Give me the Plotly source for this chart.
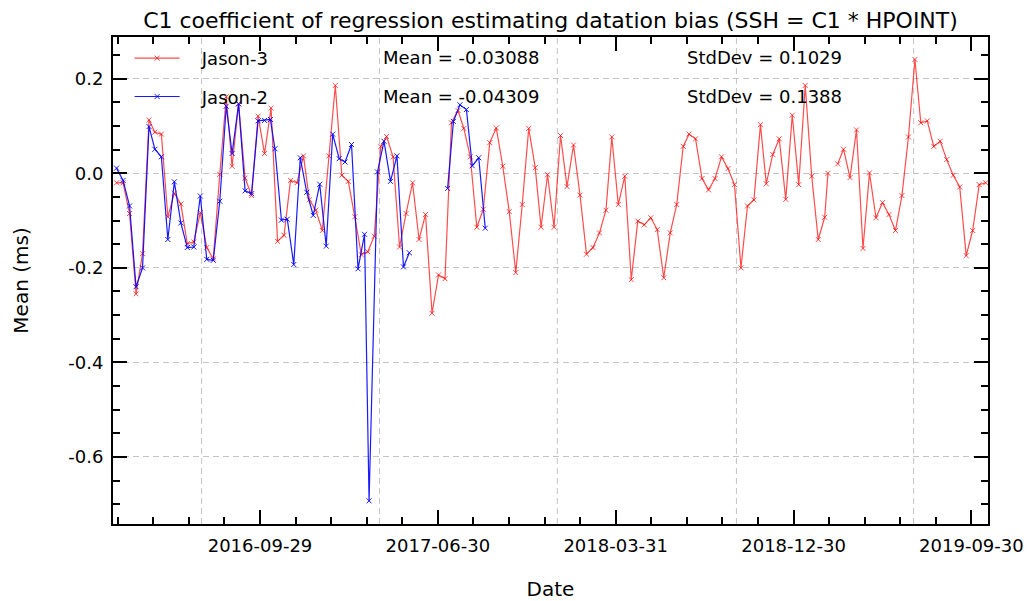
import plotly.graph_objects as go

# ---------------- data ----------------
j3_dates = [
    "2016-02-21", "2016-03-02", "2016-03-12", "2016-03-22", "2016-04-01", "2016-04-11", "2016-04-20", "2016-04-30",
    "2016-05-10", "2016-05-20", "2016-05-30", "2016-06-09", "2016-06-19", "2016-06-29", "2016-07-09", "2016-07-19",
    "2016-07-29", "2016-08-08", "2016-08-17", "2016-08-27", "2016-09-06", "2016-09-16", "2016-09-26", "2016-10-06",
    "2016-10-16", "2016-10-26", "2016-11-05", "2016-11-15", "2016-11-25", "2016-12-05", "2016-12-14", "2016-12-24",
    "2017-01-03", "2017-01-13", "2017-01-23", "2017-02-02", "2017-02-12", "2017-02-22", "2017-03-04", "2017-03-14",
    "2017-03-24", "2017-04-03", "2017-04-12", "2017-04-22", "2017-05-02", "2017-05-12", "2017-05-22", "2017-06-01",
    "2017-06-11", "2017-06-21", "2017-07-01", "2017-07-11", "2017-07-21", "2017-07-31", "2017-08-09", "2017-08-19",
    "2017-08-29", "2017-09-08", "2017-09-18", "2017-09-28", "2017-10-08", "2017-10-18", "2017-10-28", "2017-11-07",
    "2017-11-17", "2017-11-27", "2017-12-06", "2017-12-16", "2017-12-26", "2018-01-05", "2018-01-15", "2018-01-25",
    "2018-02-04", "2018-02-14", "2018-02-24", "2018-03-06", "2018-03-16", "2018-03-25", "2018-04-04", "2018-04-14",
    "2018-04-24", "2018-05-04", "2018-05-14", "2018-05-24", "2018-06-03", "2018-06-13", "2018-06-23", "2018-07-03",
    "2018-07-13", "2018-07-22", "2018-08-01", "2018-08-11", "2018-08-21", "2018-08-31", "2018-09-10", "2018-09-20",
    "2018-09-30", "2018-10-10", "2018-10-20", "2018-10-30", "2018-11-09", "2018-11-18", "2018-11-28", "2018-12-08",
    "2018-12-18", "2018-12-28", "2019-01-07", "2019-01-17", "2019-01-27", "2019-02-06", "2019-02-16", "2019-02-21",
    "2019-03-01", "2019-03-08", "2019-03-17", "2019-03-27", "2019-04-06", "2019-04-16", "2019-04-26", "2019-05-06",
    "2019-05-16", "2019-05-26", "2019-06-05", "2019-06-15", "2019-06-25", "2019-07-05", "2019-07-14", "2019-07-24",
    "2019-08-03", "2019-08-13", "2019-08-23", "2019-09-02", "2019-09-12", "2019-09-22", "2019-10-02", "2019-10-12",
    "2019-10-22",
]
j3_c1 = [
    -0.020, -0.020, -0.085, -0.255, -0.170, 0.113, 0.087, 0.083,
    -0.092, -0.042, -0.065, -0.149, -0.145, -0.083, -0.157, -0.181,
    -0.002, 0.162, 0.015, 0.147, -0.010, -0.047, 0.121, 0.042,
    0.138, -0.144, -0.131, -0.015, -0.020, 0.037, -0.056, -0.078,
    -0.121, 0.037, 0.186, -0.004, -0.017, -0.092, -0.172, -0.166,
    -0.133, 0.057, 0.078, 0.035, -0.156, -0.085, -0.020, -0.140,
    -0.087, -0.296, -0.215, -0.223, 0.107, 0.133, 0.095, 0.035,
    -0.114, -0.076, 0.065, 0.096, 0.015, -0.081, -0.210, -0.066,
    0.095, 0.012, -0.114, -0.003, -0.114, 0.080, -0.028, 0.060,
    -0.046, -0.171, -0.157, -0.126, -0.078, 0.077, -0.066, -0.006,
    -0.225, -0.101, -0.109, -0.094, -0.119, -0.221, -0.126, -0.066,
    0.057, 0.083, 0.073, -0.011, -0.035, -0.011, 0.035, 0.010,
    -0.024, -0.200, -0.069, -0.056, 0.103, -0.022, 0.040, 0.073,
    -0.055, 0.123, -0.024, 0.186, -0.006, -0.140, -0.093, 0.000,
    None, 0.020, 0.051, -0.009, 0.092, -0.159, 0.001, -0.094,
    -0.062, -0.087, -0.121, -0.047, 0.077, 0.241, 0.107, 0.111,
    0.057, 0.068, 0.029, -0.004, -0.029, -0.174, -0.121, -0.024,
    -0.020,
]

j2_dates = [
    "2016-02-21", "2016-03-02", "2016-03-12", "2016-03-22", "2016-04-01", "2016-04-11", "2016-04-20", "2016-04-30",
    "2016-05-10", "2016-05-20", "2016-05-30", "2016-06-09", "2016-06-19", "2016-06-29", "2016-07-09", "2016-07-19",
    "2016-07-29", "2016-08-08", "2016-08-17", "2016-08-27", "2016-09-06", "2016-09-16", "2016-09-26", "2016-10-06",
    "2016-10-15", "2016-10-22", "2016-11-01", "2016-11-10", "2016-11-20", "2016-11-30", "2016-12-10", "2016-12-20",
    "2016-12-30", "2017-01-09", "2017-01-19", "2017-01-29", "2017-02-07", "2017-02-17", "2017-02-27", "2017-03-09",
    "2017-03-16", "2017-03-29", "2017-04-08", "2017-04-18", "2017-04-28", "2017-05-08", "2017-05-17", "2017-06-15",
    "2017-07-15", "2017-07-24", "2017-08-03", "2017-08-13", "2017-08-22", "2017-09-01", "2017-09-11",
]
j2_c1 = [
    0.011, -0.015, -0.069, -0.240, -0.200, 0.099, 0.051, 0.035,
    -0.140, -0.018, -0.105, -0.157, -0.156, -0.048, -0.182, -0.184,
    -0.059, 0.142, 0.042, 0.147, -0.037, -0.043, 0.111, 0.112,
    0.114, 0.052, -0.099, -0.097, -0.193, 0.033, -0.040, -0.089,
    -0.023, -0.154, 0.083, 0.031, 0.024, 0.061, -0.202, -0.129,
    -0.693, 0.003, 0.068, -0.017, 0.037, -0.198, -0.168, None,
    -0.032, 0.110, 0.145, 0.135, 0.016, 0.033, -0.116,
]

series_names = ["Jason-3", "Jason-2"]
series_means = ["-0.03088", "-0.04309"]
series_stds = ["0.1029", "0.1388"]

x_tick_dates = ["2016-09-29", "2017-06-30", "2018-03-31", "2018-12-30", "2019-09-30"]
x_grid_dates = ["2016-07-01", "2017-04-01", "2017-12-31", "2018-10-03", "2019-07-03"]
y_tick_vals = [-0.6, -0.4, -0.2, 0.0, 0.2]
y_tick_text = ["-0.6", "-0.4", "-0.2", "0.0", "0.2"]

# ---------------- style ----------------
FONT = "DejaVu Sans"
RED = "rgba(255,0,0,0.7)"
BLUE = "rgba(0,0,255,0.9)"
GRID = "#c4c4c4"
PAD = "\u00a0\u00a0\u00a0"

fig = go.Figure()
for name, xs, ys, col in [(series_names[0], j3_dates, j3_c1, RED), (series_names[1], j2_dates, j2_c1, BLUE)]:
    fig.add_trace(go.Scatter(
        x=xs, y=ys, name=PAD + name, mode="lines+markers", legendgroup=name,
        line=dict(color=col, width=1.2),
        marker=dict(symbol="x-thin", size=5, line=dict(color=col, width=1)),
        connectgaps=False,
    ))

axis_common = dict(
    showline=True, linewidth=2, linecolor="black", mirror="ticks",
    ticks="inside", tickwidth=2, tickcolor="black", ticklen=14,
    tickfont=dict(family=FONT, size=18, color="black"),
    zeroline=False,
)

fig.update_xaxes(
    type="date", range=["2016-02-15 12:00", "2019-10-25 14:00"],
    tickmode="array", tickvals=x_tick_dates, ticktext=x_tick_dates,
    showgrid=False, ticklabelstandoff=4,
    minor=dict(ticks="inside", ticklen=7, tickwidth=1.5, tickcolor="black",
               tick0="2016-09-29", dtick=54.8 * 86400000, showgrid=False),
    title=dict(text="Date", font=dict(family=FONT, size=20, color="black"), standoff=28),
    **axis_common,
)
fig.update_yaxes(
    range=[-0.742, 0.2885],
    tickmode="array", tickvals=y_tick_vals, ticktext=y_tick_text,
    showgrid=True, gridcolor=GRID, gridwidth=1, griddash="6px,4px",
    ticklabelstandoff=4,
    minor=dict(ticks="inside", ticklen=7, tickwidth=1.5, tickcolor="black",
               tick0=0, dtick=0.05, showgrid=False),
    title=dict(text="Mean (ms)", font=dict(family=FONT, size=20, color="black"), standoff=34),
    **axis_common,
)

for d in x_grid_dates:
    fig.add_shape(type="line", xref="x", yref="paper", x0=d, x1=d, y0=0, y1=1,
                  line=dict(color=GRID, width=1, dash="6px,4px"), layer="below")

row_y = [0.957, 0.877]
for i in range(2):
    fig.add_annotation(text=f"Mean = {series_means[i]}", xref="paper", yref="paper",
                       x=0.3063, y=row_y[i], xanchor="left", yanchor="middle", showarrow=False,
                       font=dict(family=FONT, size=18, color="black"))
    fig.add_annotation(text=f"StdDev = {series_stds[i]}", xref="paper", yref="paper",
                       x=0.6537, y=row_y[i], xanchor="left", yanchor="middle", showarrow=False,
                       font=dict(family=FONT, size=18, color="black"))

fig.update_layout(
    width=1029, height=601,
    margin=dict(l=113, r=41, t=37, b=77, autoexpand=False),
    paper_bgcolor="white", plot_bgcolor="white",
    title=dict(text="C1 coefficient of regression estimating datation bias (SSH = C1 * HPOINT)",
               x=0.5, xref="paper", xanchor="center", y=1 - 20 / 601, yanchor="middle",
               font=dict(family=FONT, size=22, color="black")),
    font=dict(family=FONT, size=18, color="black"),
    showlegend=True,
    legend=dict(x=0.019, y=0.994, xanchor="left", yanchor="top", bgcolor="rgba(0,0,0,0)",
                borderwidth=0, itemwidth=45, tracegroupgap=12, traceorder="grouped",
                font=dict(family=FONT, size=18, color="black")),
)

fig.write_html("out.html", config={"displayModeBar": False},
               post_script="document.body.style.margin='0';")
